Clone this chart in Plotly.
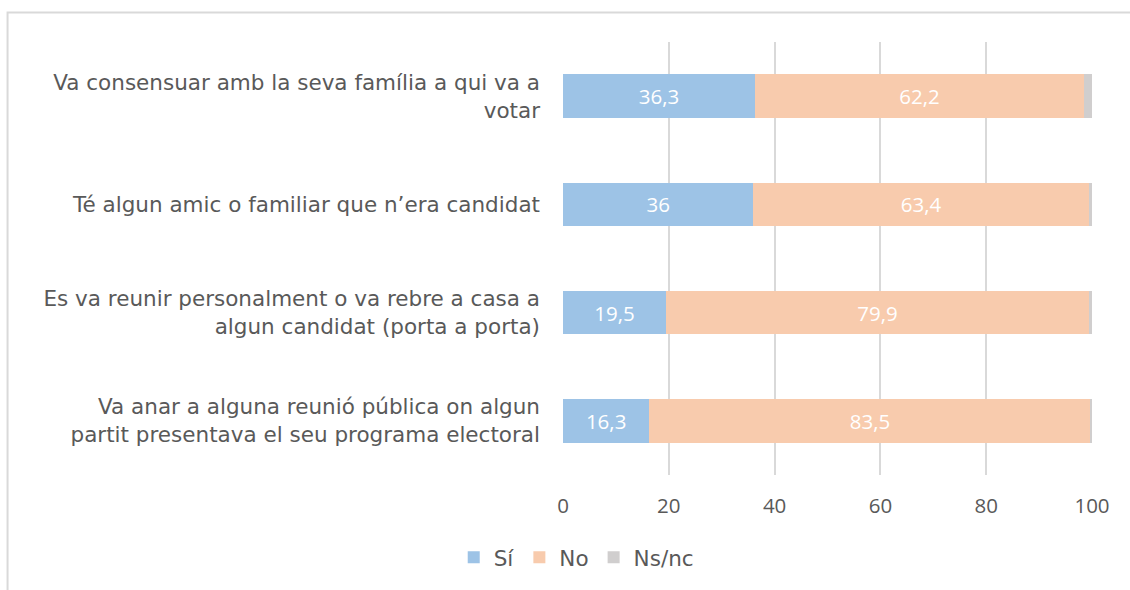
import plotly.graph_objects as go

categories = [
    "Va consensuar amb la seva família a qui va a<br>votar",
    "Té algun amic o familiar que n’era candidat",
    "Es va reunir personalment o va rebre a casa a<br>algun candidat (porta a porta)",
    "Va anar a alguna reunió pública on algun<br>partit presentava el seu programa electoral",
]
si = [36.3, 36.0, 19.5, 16.3]
no = [62.2, 63.4, 79.9, 83.5]
nsnc = [1.5, 0.6, 0.6, 0.2]
x_ticks = [0, 20, 40, 60, 80, 100]

def fmt(v):
    return f"{v:g}".replace(".", ",")

NUMFONT = "Open Sans"
TXTFONT = "DejaVu Sans"
GRAY = "#595959"
FS = 20.5

fig = go.Figure()
fig.add_trace(go.Bar(y=categories, x=si, name="Sí", orientation="h",
                     marker=dict(color="#9DC3E6", line=dict(width=0)),
                     text=[fmt(v) for v in si], textposition="inside",
                     insidetextanchor="middle",
                     textfont=dict(color="white", size=FS, family=NUMFONT)))
fig.add_trace(go.Bar(y=categories, x=no, name="No", orientation="h",
                     marker=dict(color="#F8CBAD", line=dict(width=0)),
                     text=[fmt(v) for v in no], textposition="inside",
                     insidetextanchor="middle",
                     textfont=dict(color="white", size=FS, family=NUMFONT)))
fig.add_trace(go.Bar(y=categories, x=nsnc, name="Ns/nc", orientation="h",
                     marker=dict(color="#D0CECE", line=dict(width=0))))

fig.update_layout(
    barmode="stack",
    bargap=0.6,
    width=1130, height=590,
    margin=dict(l=563, r=38, t=42, b=115),
    paper_bgcolor="white", plot_bgcolor="white",
    font=dict(family=NUMFONT, size=FS, color=GRAY),
    xaxis=dict(range=[0, 100], tickvals=x_ticks, showgrid=True,
               gridcolor="#D9D9D9", gridwidth=2, zeroline=False,
               showline=False, ticklabelstandoff=16,
               tickfont=dict(size=FS, color=GRAY, family=NUMFONT)),
    yaxis=dict(autorange="reversed", showgrid=False, showline=False,
               ticklabelstandoff=22,
               tickfont=dict(size=21.5, color=GRAY, family=TXTFONT)),
    legend=dict(orientation="h", x=0.025, xanchor="center", y=-0.19,
                yanchor="middle",
                font=dict(size=21.5, color=GRAY, family=TXTFONT),
                itemwidth=30, traceorder="normal"),
    showlegend=True,
    shapes=[dict(type="rect", xref="paper", yref="paper",
                 x0=-1.050, x1=1.5, y0=-1.0, y1=1.068,
                 line=dict(color="#D9D9D9", width=2),
                 fillcolor="rgba(0,0,0,0)", layer="below")],
)

fig.write_html("out.html", config={"displayModeBar": False},
               post_script="document.body.style.margin='0';document.body.style.padding='0';")
